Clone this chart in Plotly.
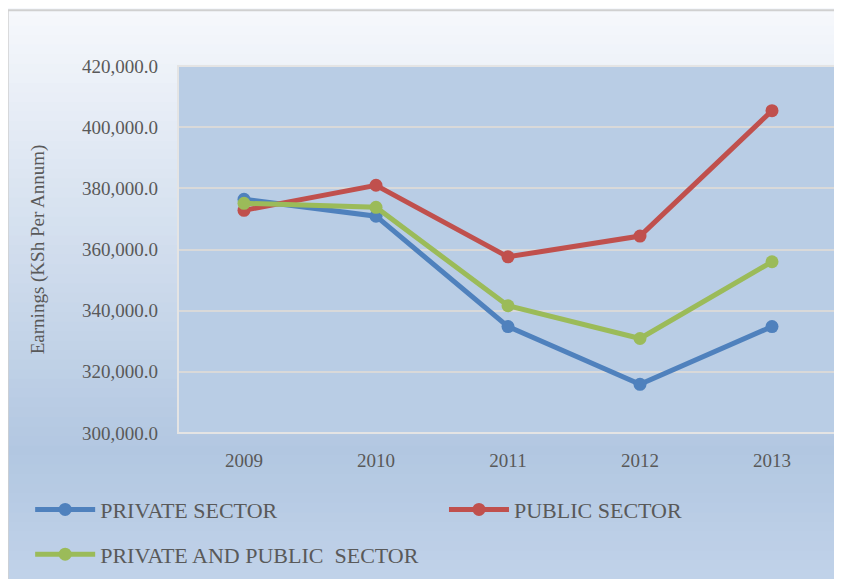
import plotly.graph_objects as go

years = ["2009", "2010", "2011", "2012", "2013"]
private_sector = [376400, 370900, 334800, 315900, 334800]
public_sector = [372800, 381000, 357600, 364400, 405400]
private_and_public = [375100, 373800, 341600, 330900, 356000]

FONT = "Liberation Serif"
TEXT_COL = "#595959"

series = [
    ("PRIVATE SECTOR", private_sector, "#4f81bd", "legend"),
    ("PUBLIC SECTOR", public_sector, "#c0504d", "legend3"),
    ("PRIVATE AND PUBLIC  SECTOR", private_and_public, "#9bbb59", "legend2"),
]

fig = go.Figure()
for name, vals, col, leg in series:
    fig.add_trace(go.Scatter(
        x=years, y=vals, name=name, mode="lines+markers",
        line=dict(color=col, width=5),
        marker=dict(color=col, size=13),
        legend=leg,
    ))


def lerp(c1, c2, t):
    return "rgb(%d,%d,%d)" % tuple(round(a + (b - a) * t) for a, b in zip(c1, c2))


# gradient background (top pale -> bottom light blue), drawn as stacked strips
top_c, mid_c, bot_c = (246, 248, 252), (178, 199, 225), (192, 210, 233)
shapes = []
n = 60
y_top, y_bot = 1.16, -0.40
for i in range(n):
    t = i / (n - 1)
    if t < 0.78:
        c = lerp(top_c, mid_c, t / 0.78)
    else:
        c = lerp(mid_c, bot_c, (t - 0.78) / 0.22)
    y0 = y_top - (y_top - y_bot) * i / n
    y1 = y_top - (y_top - y_bot) * (i + 1) / n
    shapes.append(dict(type="rect", xref="paper", yref="paper",
                       x0=-0.3, x1=1.1, y0=y1, y1=y0 + 0.002,
                       fillcolor=c, line=dict(width=0), layer="below"))
# plot area fill
shapes.append(dict(type="rect", xref="paper", yref="paper",
                   x0=0, x1=1, y0=0, y1=1,
                   fillcolor="#b9cde5", line=dict(width=0), layer="below"))
# outer chart border
shapes.append(dict(type="rect", xref="paper", yref="paper",
                   x0=-0.258, x1=1.2, y0=-0.5, y1=1.152,
                   line=dict(color="#d0d0d0", width=2), layer="below"))
# plot area border
shapes.append(dict(type="rect", xref="paper", yref="paper",
                   x0=0, x1=1, y0=0, y1=1,
                   line=dict(color="#e4e4e4", width=2), layer="above"))

leg_font = dict(family=FONT, size=22, color=TEXT_COL)
leg_common = dict(orientation="h", xanchor="left", yanchor="middle",
                  itemwidth=60, bgcolor="rgba(0,0,0,0)", font=leg_font)

fig.update_layout(
    width=834, height=571,
    margin=dict(l=170, r=4, t=58, b=144),
    paper_bgcolor="#ffffff",
    plot_bgcolor="rgba(0,0,0,0)",
    font=dict(family=FONT, color=TEXT_COL, size=19),
    shapes=shapes,
    showlegend=True,
    legend=dict(x=-0.224, y=-0.2087, **leg_common),
    legend3=dict(x=0.403, y=-0.2087, **leg_common),
    legend2=dict(x=-0.224, y=-0.3306, **leg_common),
    xaxis=dict(
        type="category", range=[-0.5, 4.5], showgrid=False, zeroline=False,
        showline=False, ticks="", ticklabelstandoff=14,
        tickfont=dict(size=19, color=TEXT_COL),
    ),
    yaxis=dict(
        range=[300000, 420000], dtick=20000, tickformat=",.1f",
        showgrid=True, gridcolor="#d9d9d9", gridwidth=2, zeroline=False,
        ticks="", ticklen=0, ticklabelstandoff=19,
        tickfont=dict(size=19, color=TEXT_COL),
        title=dict(text="Earnings (KSh Per Annum)", standoff=32,
                   font=dict(size=19, color=TEXT_COL)),
    ),
)

fig.write_html("out.html")
